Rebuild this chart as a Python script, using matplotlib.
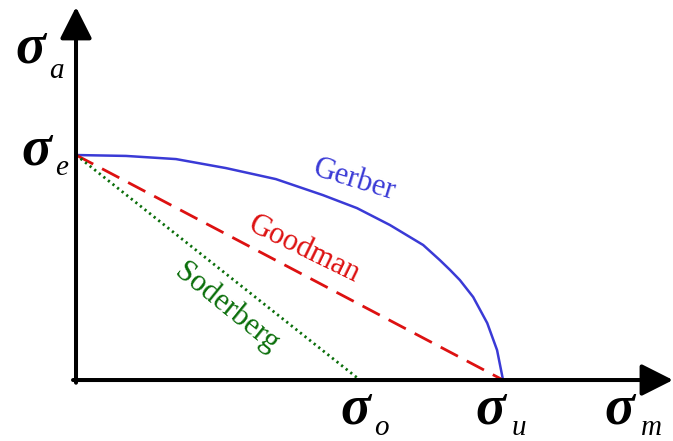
import numpy as np
import matplotlib.pyplot as plt

# stress values (normalised: sigma_u = 1 on the x axis, sigma_e = 1 on the y axis)
sig_e = 1.0
sig_u = 1.0
sig_o = 0.665

# Gerber curve
gerber_m = [0.0, 0.117, 0.234, 0.351, 0.468, 0.578, 0.658, 0.735, 0.813,
            0.852, 0.876, 0.899, 0.930, 0.963, 0.986, 1.0]
gerber_a = [1.0, 0.996, 0.982, 0.942, 0.893, 0.822, 0.764, 0.689, 0.600,
            0.533, 0.489, 0.444, 0.369, 0.253, 0.133, 0.0]

goodman_m = [0.0, sig_u]
goodman_a = [sig_e, 0.0]
soder_m = [0.0, sig_o]
soder_a = [sig_e, 0.0]

fig = plt.figure(figsize=(6.73, 4.41), dpi=100)
ax = fig.add_axes([0, 0, 1, 1])
ax.set_xlim(-0.178, 1.398)
ax.set_ylim(-0.271, 1.689)
ax.axis("off")

blue = "#3a3ad6"
red = "#dd1111"
green = "#0a6e0a"

ax.plot(gerber_m, gerber_a, color=blue, lw=1.8, solid_joinstyle="round")
ax.plot(goodman_m, goodman_a, color=red, lw=2.0, dashes=(7, 3.6))
ax.plot(soder_m, soder_a, color=green, lw=2.0, linestyle=(0, (0.8, 1.3)))

# axes with arrow heads
arr = dict(arrowstyle="-|>,head_length=0.97,head_width=0.49", mutation_scale=20,
           lw=2.9, color="black", shrinkA=0, shrinkB=0)
ax.annotate("", xy=(0, 1.658), xytext=(0, -0.012), arrowprops=arr)
ax.annotate("", xy=(1.398, 0), xytext=(-0.007, 0), arrowprops=arr)

serif = "Liberation Serif"
big = dict(fontfamily=serif, fontsize=40, fontstyle="italic", fontweight="bold",
           ha="center", va="baseline")
small = dict(fontfamily=serif, fontsize=21, fontstyle="italic",
             ha="center", va="baseline")

ax.text(-0.106, 1.409, "σ", **big)
ax.text(-0.047, 1.342, "a", **small)
ax.text(-0.094, 0.956, "σ", **big)
ax.text(-0.034, 0.911, "e", **small)
ax.text(sig_o - 0.012, -0.191, "σ", **big)
ax.text(sig_o + 0.050, -0.244, "o", **small)
ax.text(sig_u - 0.029, -0.191, "σ", **big)
ax.text(sig_u + 0.036, -0.244, "u", **small)
ax.text(1.273, -0.191, "σ", **big)
ax.text(1.348, -0.244, "m", **small)

lab = dict(fontfamily=serif, fontsize=22, ha="center", va="center",
           rotation_mode="anchor")
ax.text(0.651, 0.889, "Gerber", color=blue, rotation=-17, **lab)
ax.text(0.534, 0.578, "Goodman", color=red, rotation=-26, **lab)
ax.text(0.354, 0.320, "Soderberg", color=green, rotation=-39, **lab)

fig.savefig("out.png", dpi=100)
